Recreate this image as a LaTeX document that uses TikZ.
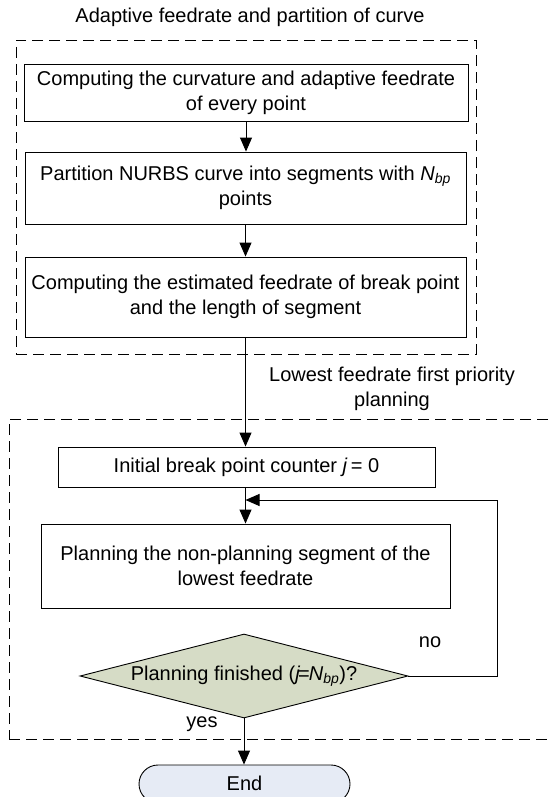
\documentclass[tikz,border=0pt]{standalone}
\usepackage{fontspec}
\setmainfont{Liberation Sans}
\usetikzlibrary{arrows.meta,shapes.geometric,shapes.misc}
\definecolor{decfill}{RGB}{214,220,198}
\definecolor{endfill}{RGB}{230,235,245}
\tikzset{
  every node/.style={font=\fontsize{20}{25}\selectfont},
  procbox/.style={draw, line width=0.9pt, fill=white, align=center, inner sep=0pt},
  groupbox/.style={draw, line width=0.9pt, dash pattern=on 11pt off 6pt, inner sep=0pt},
  decision/.style={draw, line width=0.9pt, diamond, fill=decfill, inner sep=0pt},
  terminal/.style={draw, line width=0.9pt, rounded rectangle, fill=endfill, inner sep=0pt},
  flow/.style={line width=0.9pt, -{Triangle[length=14pt,width=12pt]}},
  caption/.style={align=center, inner sep=0pt}
}
\newcommand{\Nbp}{\textit{N}\textsubscript{\textit{bp}}}
\begin{document}
\begin{tikzpicture}[x=1pt, y=-1pt]
  \useasboundingbox (0,0) rectangle (551,797);
  \clip (0,0) rectangle (551,797);

  % group frames
  \node[groupbox, minimum width=460pt, minimum height=314pt] (g1) at (246,197) {};
  \node[groupbox, minimum width=560pt, minimum height=320pt] (g2) at (289,579) {};
  \node[caption] (t1) at (250,17) {Adaptive feedrate and partition of curve};
  \node[caption] (t2) at (392,389) {Lowest feedrate first priority\\planning};

  % process steps
  \node[procbox, minimum width=444pt, minimum height=57pt] (a) at (246,92.5)
    {Computing the curvature and adaptive feedrate\\of every point};
  \node[procbox, minimum width=441pt, minimum height=72pt] (b) at (245.5,188)
    {Partition NURBS curve into segments with \Nbp\\points};
  \node[procbox, minimum width=441pt, minimum height=80pt] (c) at (245.5,297)
    {Computing the estimated feedrate of break point\\and the length of segment};
  \node[procbox, minimum width=377pt, minimum height=40pt] (d) at (246.5,467)
    {Initial break point counter \textit{j}\,= 0};
  \node[procbox, minimum width=409pt, minimum height=84pt] (e) at (245.5,566)
    {Planning the non-planning segment of the\\lowest feedrate};
  \node[decision, minimum width=328pt, minimum height=84pt] (f) at (244,676) {};
  \node[caption] (ftext) at (f) {Planning finished (\textit{j}\kern-2pt=\kern-1pt\Nbp)?};
  \node[terminal, minimum width=211pt, minimum height=38pt] (g) at (244.5,784) {};
  \node[caption] (gtext) at (244.5,783) {End};

  \node[caption] (no) at (430,642) {no};
  \node[caption] (yes) at (202,724) {yes};

  \coordinate (join) at (245.5,500);

  % connectors
  \draw[flow] (a.south) -- (a.south |- b.north);
  \draw[flow] (b.south) -- (b.south |- c.north);
  \draw[flow] (c.south) -- (c.south |- d.north);
  \draw[flow] (d.south -| join) -- (join |- e.north);
  \draw[flow] (f.south) -- (f.south |- g.north);
  \draw[flow] (f.east) -- (497,676) |- (join);
\end{tikzpicture}
\end{document}
